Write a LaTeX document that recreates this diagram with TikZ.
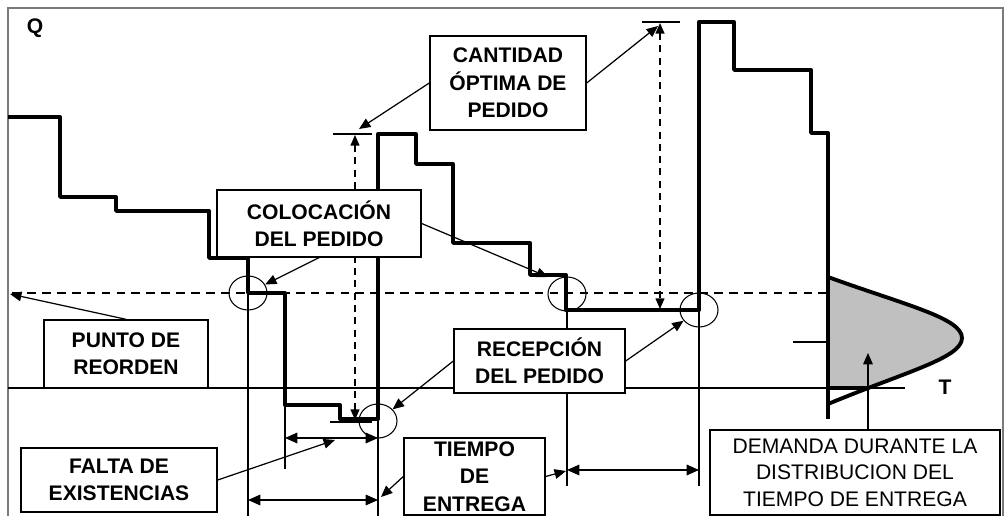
\documentclass[tikz,border=0pt]{standalone}
\usepackage{fontspec}
\setmainfont{Liberation Sans}
\usetikzlibrary{arrows.meta,shapes.geometric}

\definecolor{distgray}{HTML}{C0C0C0}
\definecolor{framegray}{HTML}{7A7A7A}

\tikzset{
  box/.style={draw, fill=white, line width=0.8pt, align=center, inner sep=0pt,
    font=\bfseries\fontsize{12}{15.6}\selectfont},
  ring/.style={draw, ellipse, line width=0.6pt, minimum width=0.76cm,
    minimum height=0.68cm, inner sep=0pt},
  stock/.style={line width=2.2pt, line join=round},
  guide/.style={line width=0.8pt},
  lead/.style={-{Triangle[length=6.5pt,width=5.5pt]}, line width=0.7pt},
  span/.style={{Triangle[length=7pt,width=6pt]}-{Triangle[length=7pt,width=6pt]},
    line width=0.9pt},
  qline/.style={{Triangle[length=6pt,width=5pt]}-{Triangle[length=6pt,width=5pt]},
    dash pattern=on 4pt off 3pt, line width=0.9pt},
  reorder/.style={dash pattern=on 5pt off 3.5pt, line width=0.9pt},
}

\begin{document}
\begin{tikzpicture}[x=0.02cm,y=-0.02cm]
  \useasboundingbox (0,0) rectangle (1008,516);
  \clip (0,0) rectangle (1008,516);

  % frame
  \draw[framegray, line width=1.1pt] (8,540) -- (8,8) -- (1003,8) -- (1003,540);

  \node[font=\bfseries\fontsize{12}{14}\selectfont] (qlab) at (35,28) {Q};
  \node[font=\bfseries\fontsize{12}{14}\selectfont] (tlab) at (945,387) {T};

  % axis and reorder level
  \draw[guide] (8,388) -- (905,388);
  \draw[reorder] (12,293) -- (826,293);

  % lead time distribution
  \begin{scope}
    \clip (828,260) rectangle (980,388);
    \fill[distgray] (828,277) .. controls (905,305) and (962,318) .. (962,338)
      .. controls (962,358) and (905,372) .. (828,404) -- cycle;
  \end{scope}
  \draw[stock] (828,277) .. controls (905,305) and (962,318) .. (962,338)
    .. controls (962,358) and (905,372) .. (828,404);
  \draw[stock] (828,388) -- (868,388);
  \draw[guide] (793,342) -- (828,342);

  % guides for lead times
  \draw[guide] (248,293) -- (248,520);
  \draw[guide] (285,405) -- (285,469);
  \draw[guide] (378,419) -- (378,520);
  \draw[guide] (567,310) -- (567,486);
  \draw[guide] (699,310) -- (699,486);
  \draw[guide] (333,134) -- (372,134);
  \draw[guide] (330,422) -- (372,422);
  \draw[guide] (642,22) -- (680,22);

  % inventory level
  \draw[stock] (8,117) -| (60,197) -| (116,211) -| (209,258) -| (248,293)
    -| (285,405) -| (340,419) -| (378,134) -| (416,164) -| (453,243)
    -| (530,275) -| (566,310) -| (699,22) -| (734,70) -| (811,133) -| (828,419);

  % order quantity
  \coordinate (qa) at (355,135);
  \coordinate (qb) at (355,420);
  \coordinate (qc) at (660,23);
  \coordinate (qd) at (660,309);
  \draw[qline] (qa) -- (qb);
  \draw[qline] (qc) -- (qd);

  % spans
  \coordinate (t1) at (285,438);
  \coordinate (t2) at (378,438);
  \coordinate (t3) at (248,500);
  \coordinate (t4) at (378,500);
  \coordinate (t5) at (567,470);
  \coordinate (t6) at (699,470);
  \draw[span] (t1) -- (t2);
  \draw[span] (t3) -- (t4);
  \draw[span] (t5) -- (t6);

  \node[ring] (r1) at (248,293) {};
  \node[ring] (r2) at (378,421) {};
  \node[ring] (r3) at (567,294) {};
  \node[ring] (r4) at (699,310) {};

  % labels
  \node[box, minimum width=3.12cm, minimum height=1.88cm] (cant) at (508,83)
    {CANTIDAD\\ÓPTIMA DE\\PEDIDO};
  \node[box, minimum width=4.08cm, minimum height=1.34cm] (coloc) at (319,223.5)
    {COLOCACIÓN\\DEL PEDIDO};
  \node[box, minimum width=3.28cm, minimum height=1.36cm] (punto) at (126,354)
    {PUNTO DE\\REORDEN};
  \node[box, minimum width=3.92cm, minimum height=1.28cm] (falta) at (119,480)
    {FALTA DE\\EXISTENCIAS};
  \node[box, minimum width=3.42cm, minimum height=1.28cm] (recep) at (539.5,361)
    {RECEPCIÓN\\DEL PEDIDO};
  \node[box, minimum width=2.82cm, minimum height=1.54cm] (tiempo) at (474.5,476.5)
    {TIEMPO\\DE\\ENTREGA};
  \node[box, font=\fontsize{12}{15}\selectfont, minimum width=5.8cm,
    minimum height=1.7cm] (demanda) at (855,472.5)
    {DEMANDA DURANTE LA\\DISTRIBUCION DEL\\TIEMPO DE ENTREGA};

  % leaders
  \coordinate (p1) at (359,129);
  \coordinate (p2) at (658,26);
  \coordinate (p3) at (548,277);
  \coordinate (p4) at (10,294);
  \coordinate (p5) at (335,440);
  \coordinate (p6) at (381,497);
  \coordinate (p7) at (566,471);
  \coordinate (p8) at (868,353);
  \draw[lead] (cant.west) -- (p1);
  \draw[lead] (cant.east) -- (p2);
  \draw[lead] (coloc.south) -- (r1);
  \draw[lead] (coloc.east) -- (p3);
  \draw[lead] (punto.north) -- (p4);
  \draw[lead] (falta.east) -- (p5);
  \draw[lead] (recep.west) -- (r2);
  \draw[lead] (recep.east) -- (r4);
  \draw[lead] (tiempo.west) -- (p6);
  \draw[lead] (tiempo.east) -- (p7);
  \draw[lead] (demanda.north -| p8) -- (p8);
\end{tikzpicture}
\end{document}
